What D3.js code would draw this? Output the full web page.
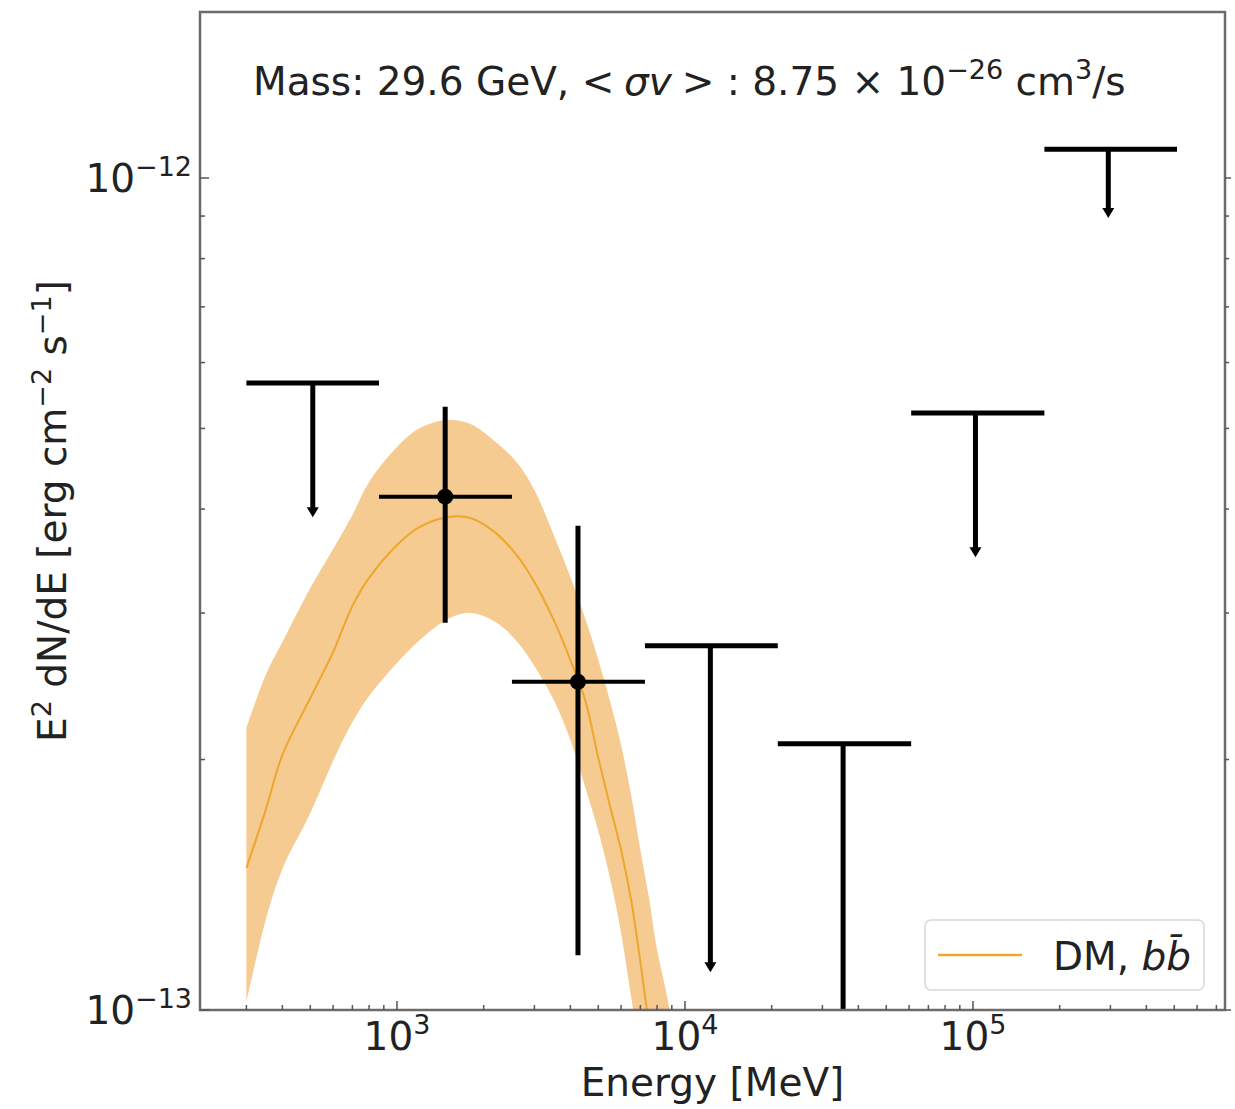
<!DOCTYPE html>
<html>
<head>
<meta charset="utf-8">
<script src="https://cdn.jsdelivr.net/npm/d3@7"></script>
<style>
  body { margin: 0; background: #fff; }
  text { font-family: "DejaVu Sans", sans-serif; fill: #222; }
</style>
</head>
<body>
<div id="viz"></div>
<script>
// Size and plot box
const width = 1235;
const height = 1109;
const margin = { top: 12, right: 10, bottom: 99, left: 200 };
const fontSize = 39;

// SED points, energy bins in MeV
const binCenter = [510, 1470, 4250, 12250, 35400, 102000, 295000];
const binLow    = [300, 866, 2507, 7260, 21000, 61000, 177000];
const binHigh   = [866, 2507, 7260, 21000, 61000, 177000, 511000];
const isUpperLimit = [true, false, false, true, true, true, true];
// flux value (or upper limit) and error bar ends, erg cm^-2 s^-1
const fluxVal = [5.67e-13, 4.14e-13, 2.48e-13, 2.74e-13, 2.09e-13, 5.22e-13, 1.083e-12];
const fluxLow = [3.91e-13, 2.92e-13, 1.164e-13, 1.11e-13, 0.8e-13, 3.50e-13, 0.895e-12];
const fluxHigh = [5.67e-13, 5.31e-13, 3.82e-13, 2.74e-13, 2.09e-13, 5.22e-13, 1.083e-12];

// DM bb model curve and its band
const modelE = [300, 350, 400, 500, 600, 700, 800, 1000, 1200, 1500, 1800, 2200, 2600,
                3000, 3500, 4000, 4500, 5000, 5500, 6000, 6500, 7000, 7500, 8000, 8500, 9000];
const modelMid = [1.481e-13, 1.740e-13, 2.026e-13, 2.371e-13, 2.693e-13, 3.059e-13, 3.306e-13,
                  3.622e-13, 3.807e-13, 3.914e-13, 3.903e-13, 3.745e-13, 3.523e-13, 3.269e-13,
                  2.943e-13, 2.634e-13, 2.358e-13, 2.009e-13, 1.754e-13, 1.557e-13, 1.356e-13,
                  1.142e-13, 0.962e-13, 0.85e-13, 0.75e-13, 0.66e-13];
const modelUp = [2.183e-13, 2.527e-13, 2.769e-13, 3.216e-13, 3.582e-13, 3.936e-13, 4.312e-13,
                 4.750e-13, 5.006e-13, 5.118e-13, 5.061e-13, 4.816e-13, 4.557e-13, 4.217e-13,
                 3.724e-13, 3.315e-13, 2.959e-13, 2.634e-13, 2.346e-13, 2.082e-13, 1.813e-13,
                 1.557e-13, 1.363e-13, 1.181e-13, 1.072e-13, 0.973e-13];
const modelDown = [1.022e-13, 1.283e-13, 1.477e-13, 1.725e-13, 1.992e-13, 2.219e-13, 2.385e-13,
                   2.613e-13, 2.784e-13, 2.951e-13, 3.001e-13, 2.926e-13, 2.776e-13, 2.591e-13,
                   2.358e-13, 2.111e-13, 1.854e-13, 1.641e-13, 1.437e-13, 1.237e-13, 1.037e-13,
                   0.883e-13, 0.78e-13, 0.69e-13, 0.61e-13, 0.54e-13];

// Axis ranges and tick labels
const xDomain = [207, 750000];
const yDomain = [1e-13, 1.583e-12];
const xMajor = [1e3, 1e4, 1e5];
const xMajorLabels = [["10", "3"], ["10", "4"], ["10", "5"]];
const yMajor = [1e-13, 1e-12];
const yMajorLabels = [["10", "\u221213"], ["10", "\u221212"]];

const svg = d3.select("#viz")
    .append("svg")
    .attr("width", width)
    .attr("height", height)
    .style("background", "#fff");

const x = d3.scaleLog().domain(xDomain).range([margin.left, width - margin.right]);
const y = d3.scaleLog().domain(yDomain).range([height - margin.bottom, margin.top]);

const x0 = margin.left, x1 = width - margin.right;
const y0 = height - margin.bottom, y1 = margin.top;

svg.append("clipPath").attr("id", "plotClip")
    .append("rect")
    .attr("x", x0).attr("y", y1)
    .attr("width", x1 - x0).attr("height", y0 - y1);

const plot = svg.append("g").attr("clip-path", "url(#plotClip)");

// band + model line
const band = modelE.map((e, i) => ({ e, lo: modelDown[i], hi: modelUp[i], mid: modelMid[i] }));

plot.append("path")
    .datum(band)
    .attr("fill", "#f6cb91")
    .attr("d", d3.area()
        .x(d => x(d.e))
        .y0(d => y(d.lo))
        .y1(d => y(d.hi))
        .curve(d3.curveCatmullRom));

plot.append("path")
    .datum(band)
    .attr("fill", "none")
    .attr("stroke", "#eda72e")
    .attr("stroke-width", 2)
    .attr("d", d3.line()
        .x(d => x(d.e))
        .y(d => y(d.mid))
        .curve(d3.curveCatmullRom));

// SED points and upper limits
const sed = binCenter.map((e, i) => ({
    e, lo: binLow[i], hi: binHigh[i], ul: isUpperLimit[i],
    v: fluxVal[i], vLo: fluxLow[i], vHi: fluxHigh[i]
}));

const pts = plot.selectAll(".sed")
    .data(sed)
    .enter().append("g")
    .attr("class", "sed");

// horizontal energy bar
pts.append("line")
    .attr("x1", d => x(d.lo))
    .attr("x2", d => x(d.hi))
    .attr("y1", d => y(d.v))
    .attr("y2", d => y(d.v))
    .attr("stroke", "#000")
    .attr("stroke-width", d => d.ul ? 5 : 4);

// vertical error bar / upper limit stem
pts.append("line")
    .attr("x1", d => x(d.e))
    .attr("x2", d => x(d.e))
    .attr("y1", d => y(d.vHi))
    .attr("y2", d => d.ul ? y(d.vLo) - 6 : y(d.vLo))
    .attr("stroke", "#000")
    .attr("stroke-width", 5);

// arrow heads for upper limits
pts.filter(d => d.ul)
    .append("path")
    .attr("fill", "#000")
    .attr("d", d => {
        const cx = x(d.e), ty = y(d.vLo);
        return `M${cx - 6},${ty - 10}L${cx + 6},${ty - 10}L${cx},${ty}Z`;
    });

// markers for detected points
pts.filter(d => !d.ul)
    .append("circle")
    .attr("cx", d => x(d.e))
    .attr("cy", d => y(d.v))
    .attr("r", 8)
    .attr("fill", "#000");

// Frame
svg.append("rect")
    .attr("x", x0).attr("y", y1)
    .attr("width", x1 - x0).attr("height", y0 - y1)
    .attr("fill", "none")
    .attr("stroke", "#6b6b6b")
    .attr("stroke-width", 2.5);

// ticks
const xMinor = [];
for (let k = 2; k <= 5; k++) for (let m = 2; m <= 9; m++) {
    const v = m * Math.pow(10, k);
    if (v > xDomain[0] && v < xDomain[1]) xMinor.push(v);
}
const yMinor = [];
for (let m = 2; m <= 9; m++) yMinor.push(m * 1e-13);

const tickG = svg.append("g").attr("stroke", "#555").attr("stroke-width", 1.5);

tickG.selectAll(".xmaj").data(xMajor).enter().append("line")
    .attr("x1", d => x(d)).attr("x2", d => x(d))
    .attr("y1", y0).attr("y2", y0 - 9);
tickG.selectAll(".xmin").data(xMinor).enter().append("line")
    .attr("x1", d => x(d)).attr("x2", d => x(d))
    .attr("y1", y0).attr("y2", y0 - 5);

tickG.selectAll(".ymaj").data(yMajor).enter().append("line")
    .attr("x1", x0).attr("x2", x0 + 9)
    .attr("y1", d => y(d)).attr("y2", d => y(d));
tickG.selectAll(".ymin").data(yMinor).enter().append("line")
    .attr("x1", x0).attr("x2", x0 + 5)
    .attr("y1", d => y(d)).attr("y2", d => y(d));

// right side ticks
tickG.selectAll(".rmaj").data(yMajor).enter().append("line")
    .attr("x1", x1).attr("x2", x1 + 6)
    .attr("y1", d => y(d)).attr("y2", d => y(d));
tickG.selectAll(".rmin").data(yMinor).enter().append("line")
    .attr("x1", x1).attr("x2", x1 + 4)
    .attr("y1", d => y(d)).attr("y2", d => y(d));

// tick labels
const xl = svg.selectAll(".xlab").data(xMajor).enter().append("text")
    .attr("x", d => x(d))
    .attr("y", y0 + 40)
    .attr("text-anchor", "middle")
    .style("font-size", fontSize + "px");
xl.append("tspan").text((d, i) => xMajorLabels[i][0]);
xl.append("tspan").attr("dy", -16).style("font-size", "27px").text((d, i) => xMajorLabels[i][1]);

const yl = svg.selectAll(".ylab").data(yMajor).enter().append("text")
    .attr("x", x0 - 8)
    .attr("y", d => y(d) + 14)
    .attr("text-anchor", "end")
    .style("font-size", fontSize + "px");
yl.append("tspan").text((d, i) => yMajorLabels[i][0]);
yl.append("tspan").attr("dy", -16).style("font-size", "27px").text((d, i) => yMajorLabels[i][1]);

// axis titles
svg.append("text")
    .attr("x", (x0 + x1) / 2)
    .attr("y", y0 + 86)
    .attr("text-anchor", "middle")
    .style("font-size", fontSize + "px")
    .text("Energy [MeV]");

const yTitle = svg.append("text")
    .attr("transform", `translate(66,${(y0 + y1) / 2}) rotate(-90)`)
    .attr("text-anchor", "middle")
    .style("font-size", fontSize + "px");
yTitle.append("tspan").text("E");
yTitle.append("tspan").attr("dy", -15).style("font-size", "27px").text("2");
yTitle.append("tspan").attr("dy", 15).text(" dN/dE [erg cm");
yTitle.append("tspan").attr("dy", -15).style("font-size", "27px").text("\u22122");
yTitle.append("tspan").attr("dy", 15).text(" s");
yTitle.append("tspan").attr("dy", -15).style("font-size", "27px").text("\u22121");
yTitle.append("tspan").attr("dy", 15).text("]");

// annotation
const note = svg.append("text")
    .attr("x", 253)
    .attr("y", 95)
    .style("font-size", fontSize + "px");
note.append("tspan").text("Mass: 29.6 GeV, <\u2005");
note.append("tspan").style("font-style", "italic").text("\u03c3v");
note.append("tspan").text("\u2005> : 8.75 \u00d7 10");
note.append("tspan").attr("dy", -16).style("font-size", "27px").text("\u221226");
note.append("tspan").attr("dy", 16).text(" cm");
note.append("tspan").attr("dy", -16).style("font-size", "27px").text("3");
note.append("tspan").attr("dy", 16).text("/s");

// legend
const leg = svg.append("g");
leg.append("rect")
    .attr("x", 925).attr("y", 920)
    .attr("width", 279).attr("height", 70)
    .attr("rx", 6)
    .attr("fill", "#fff")
    .attr("fill-opacity", 0.8)
    .attr("stroke", "#d8d8d8")
    .attr("stroke-width", 1.5);
leg.append("line")
    .attr("x1", 938).attr("x2", 1022)
    .attr("y1", 955).attr("y2", 955)
    .attr("stroke", "#eda72e")
    .attr("stroke-width", 2.5);
const legText = leg.append("text")
    .attr("x", 1053)
    .attr("y", 970)
    .style("font-size", fontSize + "px");
legText.append("tspan").text("DM, ");
legText.append("tspan").style("font-style", "italic").text("b");
legText.append("tspan").style("font-style", "italic").text("b\u0304");
</script>
</body>
</html>
